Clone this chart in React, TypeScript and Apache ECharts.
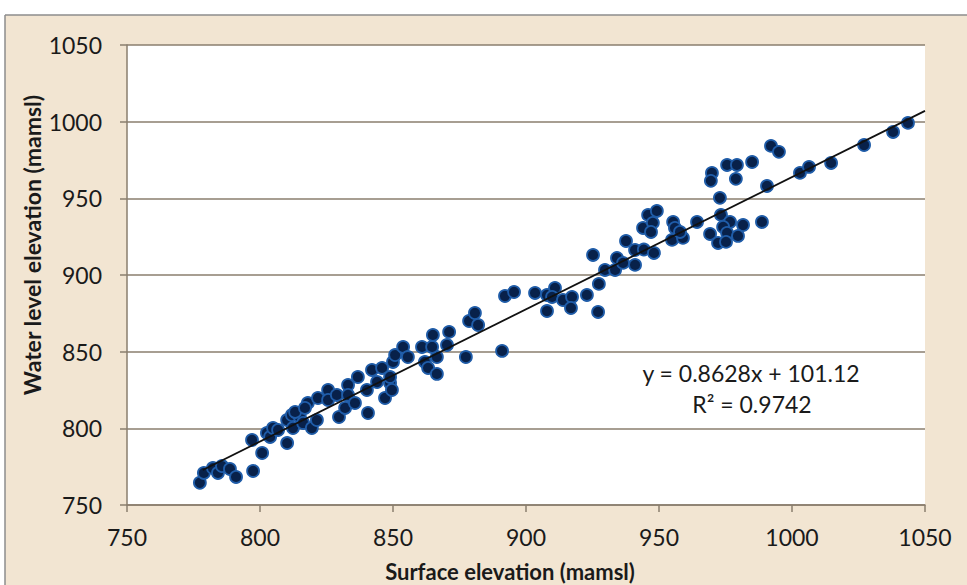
import React, { useEffect, useRef } from "react";
import * as echarts from "echarts";

const surfaceElevation = [
  777.4, 778.9, 782.3, 784.2, 785.7, 788.7, 791.0, 797.4, 797.0, 800.8,
  802.6, 803.8, 804.9, 806.8, 810.2, 810.2, 812.0, 813.9, 815.0, 812.4,
  816.2, 818.0, 819.5, 821.4, 821.8, 825.6, 825.6, 828.9, 829.7, 833.1,
  833.1, 832.0, 835.7, 836.8, 840.6, 840.2, 842.1, 844.0, 845.9, 847.0,
  848.9, 849.6, 850.0, 850.8, 848.9, 813.2, 816.9, 853.8, 855.6, 860.9,
  862.0, 863.2, 866.5, 866.5, 864.7, 865.0, 871.1, 870.3, 877.4, 878.6,
  880.8, 882.0, 891.0, 892.1, 895.5, 903.4, 907.9, 910.9, 909.8, 907.9,
  913.9, 917.3, 916.9, 922.9, 927.4, 927.1, 925.2, 929.7, 933.5, 934.2,
  936.5, 941.0, 941.0, 937.6, 944.3, 948.1, 944.0, 945.9, 949.2, 947.7,
  947.0, 955.3, 956.0, 954.9, 959.0, 957.9, 964.3, 969.9, 969.5, 972.9,
  973.3, 975.6, 979.3, 978.9, 985.0, 992.1, 995.1, 990.6, 988.7, 981.6,
  976.7, 974.1, 975.6, 979.7, 969.2, 972.2, 975.2, 1003.0, 1006.4, 1014.7,
  1027.1, 1038.0, 1043.6,
];

const waterLevel = [
  764.5, 770.9, 774.1, 770.9, 775.4, 773.5, 768.3, 772.2, 792.4, 783.9,
  797.0, 794.4, 800.2, 798.9, 790.4, 805.4, 808.7, 810.0, 807.4, 800.2,
  803.5, 816.5, 800.2, 805.4, 819.8, 825.0, 818.5, 821.8, 807.4, 828.3,
  821.8, 813.3, 816.5, 833.5, 810.0, 825.0, 838.1, 830.2, 839.4, 819.8,
  829.6, 825.0, 843.3, 847.8, 833.5, 810.7, 813.3, 853.1, 846.5, 853.1,
  843.3, 839.4, 835.5, 846.5, 853.1, 860.9, 862.9, 854.4, 846.5, 870.0,
  875.2, 867.4, 850.5, 886.3, 888.9, 888.3, 887.0, 891.6, 885.7, 876.5,
  883.7, 885.7, 878.5, 887.0, 894.2, 875.9, 913.1, 903.3, 903.3, 911.1,
  907.9, 906.6, 916.3, 922.2, 916.6, 914.4, 930.7, 939.2, 941.8, 934.0,
  928.1, 934.6, 930.7, 922.9, 924.2, 928.1, 934.6, 966.6, 961.4, 950.3,
  939.2, 971.8, 971.8, 962.7, 973.7, 984.2, 980.3, 958.1, 934.6, 932.6,
  934.6, 931.3, 927.4, 925.5, 926.8, 920.9, 921.6, 966.6, 970.5, 973.1,
  984.8, 993.3, 999.2,
];

const axisTicks = [750, 800, 850, 900, 950, 1000, 1050];
const trendSlope = 0.8628;
const trendIntercept = 101.12;
const trendRange = [778.5, 1050];
const equationText = "y = 0.8628x + 101.12";
const rSquaredText = "R² = 0.9742";
const xTitle = "Surface elevation (mamsl)";
const yTitle = "Water level elevation (mamsl)";

export default function App() {
  const ref = useRef<HTMLDivElement>(null);

  useEffect(() => {
    if (!ref.current) return;
    const chart = echarts.init(ref.current, null, { renderer: "svg" });
    const points = surfaceElevation.map((x, i) => [x, waterLevel[i]]);
    const trend = trendRange.map((x) => [x, trendSlope * x + trendIntercept]);
    const font = "Lato, 'Open Sans', sans-serif";
    const gridColor = "#8a7e6e";
    const textColor = "#1a1a1a";

    chart.setOption({
      animation: false,
      backgroundColor: "#f2e5d2",
      textStyle: { fontFamily: font },
      grid: {
        left: 127,
        right: 42,
        top: 45,
        bottom: 80,
        show: true,
        backgroundColor: "#ffffff",
        borderWidth: 0,
      },
      graphic: [
        { type: "rect", shape: { x: 0, y: 0, width: 967, height: 15 }, style: { fill: "#ffffff" }, silent: true },
        { type: "rect", shape: { x: 0, y: 0, width: 5, height: 585 }, style: { fill: "#ffffff" }, silent: true },
        { type: "line", shape: { x1: 5, y1: 15, x2: 967, y2: 15 }, style: { stroke: "#8c8c8c", lineWidth: 1.5 }, silent: true },
        { type: "line", shape: { x1: 5, y1: 15, x2: 5, y2: 585 }, style: { stroke: "#8c8c8c", lineWidth: 1.5 }, silent: true },
        {
          type: "text",
          x: 751,
          y: 373,
          style: { text: equationText, font: `23px ${font}`, fill: textColor, align: "center", verticalAlign: "middle" },
          z: 100,
        },
        {
          type: "text",
          x: 752,
          y: 404,
          style: { text: rSquaredText, font: `23px ${font}`, fill: textColor, align: "center", verticalAlign: "middle" },
          z: 100,
        },
        {
          type: "text",
          x: 510,
          y: 571,
          style: { text: xTitle, font: `bold 22px ${font}`, fill: textColor, align: "center", verticalAlign: "middle" },
          z: 100,
        },
        {
          type: "text",
          x: 32,
          y: 245,
          rotation: Math.PI / 2,
          style: { text: yTitle, font: `bold 23px ${font}`, fill: textColor, align: "center", verticalAlign: "middle" },
          z: 100,
        },
      ],
      xAxis: {
        type: "value",
        min: axisTicks[0],
        max: axisTicks[axisTicks.length - 1],
        interval: 50,
        axisLine: { show: true, lineStyle: { color: gridColor, width: 1.5 } },
        axisTick: { show: true, length: 7, lineStyle: { color: gridColor, width: 1.5 } },
        axisLabel: { fontSize: 23, color: textColor, margin: 20, fontFamily: font, formatter: (v: number) => String(v) },
        splitLine: { show: false },
      },
      yAxis: {
        type: "value",
        min: axisTicks[0],
        max: axisTicks[axisTicks.length - 1],
        interval: 50,
        axisLine: { show: true, lineStyle: { color: gridColor, width: 1.5 } },
        axisTick: { show: true, length: 7, lineStyle: { color: gridColor, width: 1.5 } },
        axisLabel: { fontSize: 23, color: textColor, margin: 25, fontFamily: font, formatter: (v: number) => String(v) },
        splitLine: { show: true, lineStyle: { color: gridColor, width: 1.5 } },
      },
      series: [
        {
          type: "scatter",
          data: points,
          symbol: "circle",
          symbolSize: 12,
          itemStyle: { color: "#08214a", borderColor: "#1f5ca8", borderWidth: 1.8, opacity: 1 },
          z: 3,
        },
        {
          type: "line",
          data: trend,
          symbol: "none",
          lineStyle: { color: "#111", width: 1.8 },
          z: 4,
        },
      ],
    });

    return () => chart.dispose();
  }, []);

  return (
    <div
      ref={ref}
      style={{ position: "fixed", left: 0, top: 0, width: 967, height: 585 }}
    />
  );
}
